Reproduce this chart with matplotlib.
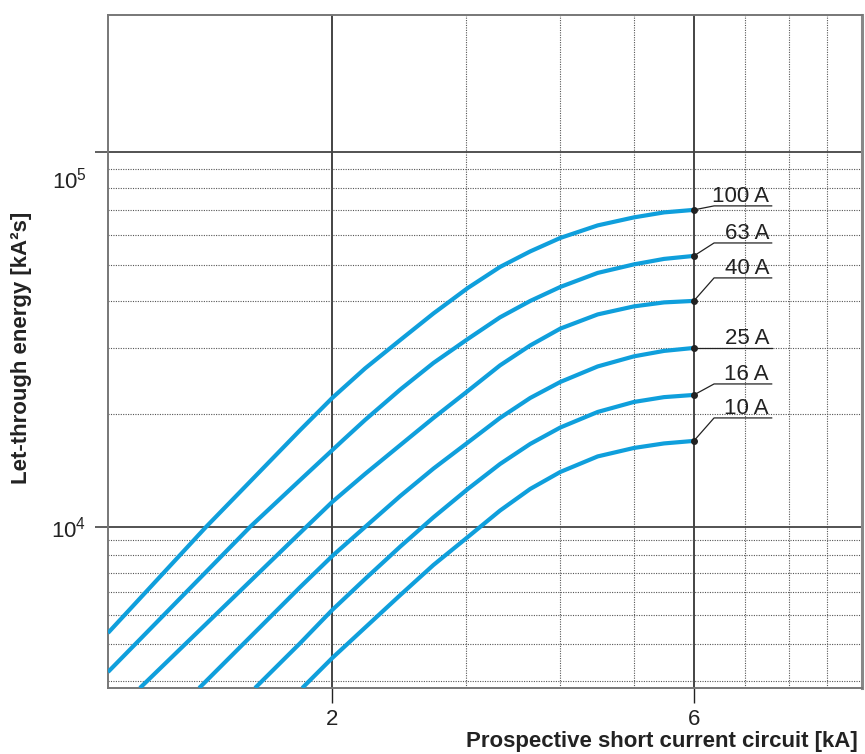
import numpy as np
import matplotlib
matplotlib.use('Agg')
import matplotlib.pyplot as plt
from matplotlib.ticker import FixedLocator, NullFormatter
from matplotlib.transforms import ScaledTranslation

plt.rcParams['font.family'] = ['Liberation Sans', 'DejaVu Sans']
plt.rcParams['mathtext.fontset'] = 'custom'
plt.rcParams['mathtext.rm'] = 'Liberation Sans'

# curve data: prospective current [kA] -> let-through energy [kA^2s]
names = ['100 A', '63 A', '40 A', '25 A', '16 A', '10 A']

# shared x positions along the bend (kA)
x_bend = [2.0, 2.21, 2.46, 2.72, 3.02, 3.33, 3.65, 4.0, 4.48, 5.0, 5.48, 6.0]

x_100 = [1.012, 1.363, 1.815] + x_bend
y_100 = [4361, 10000, 18140, 22080, 26470, 31530, 37090, 43380, 49350, 54290,
         58970, 63680, 66880, 68970, 70040]

x_63 = [1.012, 1.558, 1.815, 2.068, 2.21, 2.46, 2.72, 3.02, 3.33, 3.65, 4.0,
        4.48, 5.0, 5.48, 6.0]
y_63 = [3212, 10000, 13350, 17060, 19290, 23260, 27370, 31720, 36220, 40050,
        43650, 47570, 50120, 51840, 52800]

x_40 = [1.115, 1.842] + x_bend
y_40 = [2834, 9920, 11660, 13850, 16540, 19530, 23050, 26970, 30480, 33800,
        36870, 38730, 39690, 40060]

x_25 = [1.335, 1.815] + x_bend
y_25 = [2834, 6250, 7966, 10000, 12100, 14310, 16800, 19530, 22080, 24360,
        26790, 28500, 29470, 30010]

x_16 = [1.582, 1.815] + x_bend
y_16 = [2834, 4030, 5221, 6655, 8584, 10610, 12630, 14720, 16650, 18420,
        20260, 21540, 22190, 22490]

x_10 = [1.826] + x_bend
y_10 = [2834, 3584, 4548, 5871, 7425, 9247, 11060, 12630, 14020, 15420,
        16240, 16700, 16960]

xs = [x_100, x_63, x_40, x_25, x_16, x_10]
ys = [y_100, y_63, y_40, y_25, y_16, y_10]

# where each label's underline sits
label_y = [71780, 57170, 46130, 30010, 24060, 19530]

# the original drawing squeezes the decade below 10^4
low_ratio = 294.0 / 375.0


def fwd(v):
    v = np.asarray(v, dtype=float)
    with np.errstate(divide='ignore', invalid='ignore'):
        t = np.log10(np.where(v > 0, v, 1e-300)) - 4
    return np.where(t >= 0, t, t * low_ratio)


def inv(u):
    u = np.asarray(u, dtype=float)
    with np.errstate(over='ignore'):
        return np.where(u >= 0, 10 ** (4 + u), 10 ** (4 + u / low_ratio))


fig = plt.figure(figsize=(8.65, 7.54), dpi=100)
ax = fig.add_axes([108 / 865, 66 / 754, 754 / 865, 673 / 754])
ax.set_xscale('log')
ax.set_yscale('function', functions=(fwd, inv))
ax.set_xlim(1.012, 10.0)
ax.set_ylim(2834, 2.317e5)

blue = '#0f9fdc'
for x, y in zip(xs, ys):
    ax.plot(x, y, color=blue, lw=3.0, solid_capstyle='butt',
            solid_joinstyle='round', zorder=3)

for name, x, y, ly in zip(names, xs, ys, label_y):
    ax.plot([x[-1], 6.38, 7.6], [y[-1], ly, ly], color='#222222', lw=0.9, zorder=4)
    ax.plot(x[-1], y[-1], 'o', color='#222222', ms=4, zorder=5)
    ax.annotate(name, (7.54, ly), xytext=(0, 2.5), textcoords='offset points',
                ha='right', va='baseline', fontsize=16, color='#222222')

# ticks and grid
ax.xaxis.set_major_locator(FixedLocator([2, 6]))
ax.xaxis.set_minor_locator(FixedLocator([3, 4, 5, 7, 8, 9]))
ax.set_xticklabels(['2', '6'])
ax.xaxis.set_minor_formatter(NullFormatter())

ax.yaxis.set_major_locator(FixedLocator([1e4, 1e5]))
ax.yaxis.set_minor_locator(FixedLocator([3000, 4000, 5000, 6000, 7000, 8000, 9000,
                                         20000, 30000, 40000, 50000, 60000, 70000,
                                         80000, 90000]))
ax.set_yticklabels([r'$\mathregular{10^{4}}$', r'$\mathregular{10^{5}}$'])
ax.yaxis.set_minor_formatter(NullFormatter())

ax.tick_params(axis='x', which='major', length=11, width=1.0, color='#222222',
               pad=4, labelsize=16, labelcolor='#222222')
ax.tick_params(axis='y', which='major', length=9.5, width=1.2, color='#444444',
               pad=6, labelsize=16, labelcolor='#222222')
ax.tick_params(which='minor', length=0)

ax.grid(True, axis='x', which='major', color='#111111', lw=1.1, ls='-')
ax.grid(True, axis='y', which='major', color='#444444', lw=1.3, ls='-')
ax.grid(True, which='minor', color='#555555', lw=0.8, ls=(0, (1, 1.2)))
for tick in ax.xaxis.get_minor_ticks():
    if tick.get_loc() > 6:
        tick.gridline.set_color('#999999')
ax.set_axisbelow(True)

# the 10^5 label sits a little below its line in the original
lab5 = ax.get_yticklabels()[1]
lab5.set_transform(lab5.get_transform() + ScaledTranslation(0, -26 / 100, fig.dpi_scale_trans))

for side in ['left', 'bottom', 'top']:
    ax.spines[side].set_color('#777777')
    ax.spines[side].set_linewidth(1.4)
ax.spines['right'].set_color('#888888')
ax.spines['right'].set_linewidth(2.2)

ax.set_xlabel('Prospective short current circuit [kA]', fontsize=16, fontweight='bold',
              color='#222222', ha='right', va='center')
ax.xaxis.set_label_coords(0.9947, -0.0788)
ax.set_ylabel('Let-through energy [kA²s]', fontsize=16, fontweight='bold',
              color='#222222', va='center')
ax.yaxis.set_label_coords(-0.115, 0.506)

fig.savefig('out.png', dpi=100)
